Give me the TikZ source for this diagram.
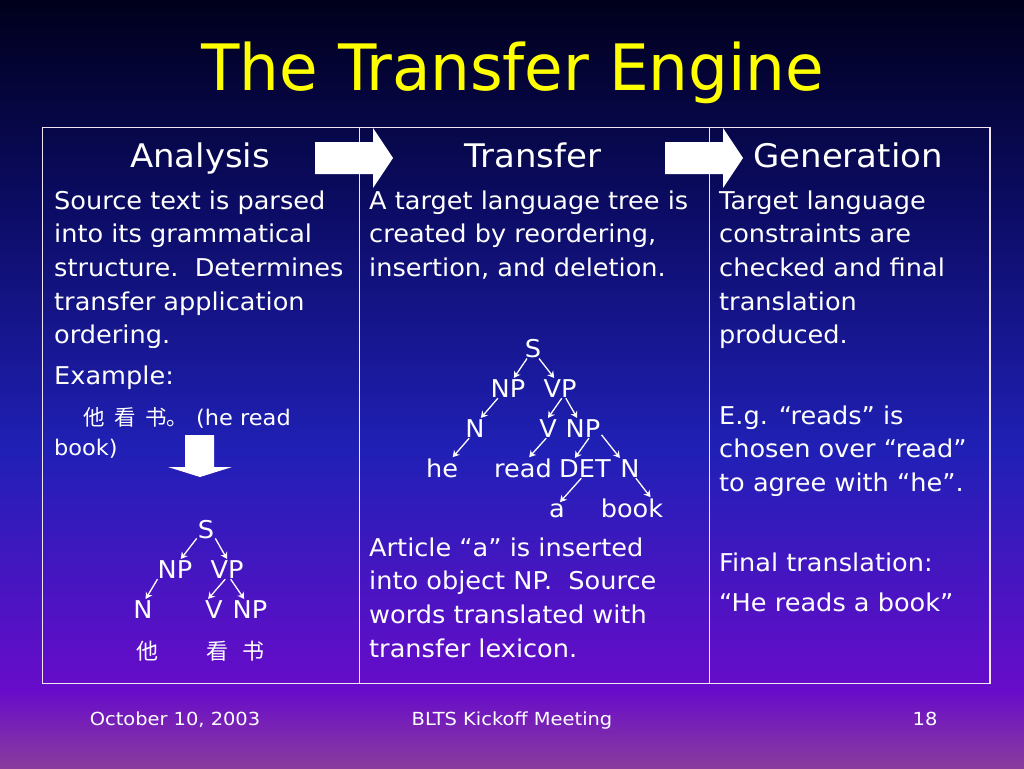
\documentclass[tikz,border=0pt]{standalone}
\usepackage{fontspec}
\setmainfont{DejaVu Sans}[FakeStretch=1.045]
\newfontfamily\titlefont{DejaVu Sans Condensed}[FakeStretch=1.09]
\newfontfamily\footfont{DejaVu Sans Condensed}[FakeStretch=1.2]
\newfontfamily\cjk{Noto Sans CJK SC}
\usetikzlibrary{arrows.meta}

\definecolor{bgA}{HTML}{00001C}
\definecolor{bgB}{HTML}{0B0B62}
\definecolor{bgC}{HTML}{2020B6}
\definecolor{bgD}{HTML}{680CCA}
\definecolor{bgE}{HTML}{8A3C9C}
\definecolor{titleyellow}{HTML}{FFFF00}
\definecolor{rulecol}{HTML}{F2E6F2}

\tikzset{
  cell text/.style={anchor=north west, inner sep=0pt, align=left, text=white,
    font=\fontsize{24.5}{33.7}\selectfont},
  head text/.style={anchor=base, text=white, font=\fontsize{32.5}{38}\selectfont},
  foot text/.style={anchor=base, text=white, font=\footfont\fontsize{18}{22}\selectfont},
  tree node/.style={anchor=base, text=white, inner sep=1pt, font=\fontsize{24.5}{28}\selectfont},
  tree edge/.style={-{Stealth[length=6.5pt,width=7.5pt]}, white, line width=1.3pt},
  block arrow/.style={fill=white, draw=none},
}

\begin{document}
\begin{tikzpicture}[x=1pt, y=-1pt]
  \useasboundingbox (0,0) rectangle (1024,768);
  % background
  \shade[top color=bgA, bottom color=bgB] (0,0) rectangle (1024,201);
  \shade[top color=bgB, bottom color=bgC] (0,200) rectangle (1024,451);
  \shade[top color=bgC, bottom color=bgD] (0,450) rectangle (1024,691);
  \shade[top color=bgD, bottom color=bgE] (0,690) rectangle (1024,768);

  \node[anchor=base, text=titleyellow, font=\titlefont\fontsize{64}{70}\selectfont]
    (title) at (513,90) {The Transfer Engine};

  % table
  \draw[rulecol, line width=1.2pt] (42.5,127.5) rectangle (990,683.5);
  \draw[rulecol, line width=1pt] (359,127.5) -- (359,683.5);
  \draw[rulecol, line width=1pt] (709,127.5) -- (709,683.5);

  % block arrows
  \fill[block arrow] (315,142) -- (373,142) -- (373,128) -- (393,158) -- (373,188)
    -- (373,174) -- (315,174) -- cycle;
  \fill[block arrow] (665,142) -- (723,142) -- (723,128) -- (743,158) -- (723,188)
    -- (723,174) -- (665,174) -- cycle;
  \fill[block arrow] (185,435) -- (214,435) -- (214,467) -- (232,467) -- (200,477)
    -- (168,467) -- (185,467) -- cycle;

  % headers
  \node[head text] (hAnalysis) at (200,167) {Analysis};
  \node[head text] (hTransfer) at (533,167) {Transfer};
  \node[head text] (hGeneration) at (848,167) {Generation};

  % analysis column
  \node[cell text] (aText) at (54,185.4) {\strut Source text is parsed\\into its grammatical\\structure.\ \ Determines\\transfer application\\ordering.};
  \node[cell text] (aExample) at (54,360.4) {\strut Example:};
  \node[cell text, font=\fontsize{21.5}{30}\selectfont] (aSource) at (54,404)
    {\strut\hspace*{29pt}{\cjk 他}\hspace{9.5pt}{\cjk 看}\hspace{9.5pt}{\cjk 书。}\hspace{8pt}(he read\\book)};

  % transfer column
  \node[cell text] (tText) at (369,185.4) {\strut A target language tree is\\created by reordering,\\insertion, and deletion.};
  \node[cell text] (tNote) at (369,532.4) {\strut Article “a” is inserted\\into object NP.\ \ Source\\words translated with\\transfer lexicon.};

  % generation column
  \node[cell text] (gText) at (719,185.4) {\strut Target language\\constraints are\\checked and final\\translation\\produced.};
  \node[cell text] (gExample) at (719,400.4) {\strut E.g. “reads” is\\chosen over “read”\\to agree with “he”.};
  \node[cell text] (gFinal) at (719,547.4) {\strut Final translation:};
  \node[cell text] (gResult) at (719,587.4) {\strut “He reads a book”};

  % source tree
  \node[tree node] (aS) at (206,538) {S};
  \node[tree node] (aNP) at (175,578) {NP};
  \node[tree node] (aVP) at (227,578) {VP};
  \node[tree node] (aN) at (143,618) {N};
  \node[tree node] (aV) at (214,618) {V};
  \node[tree node] (aNP2) at (250,618) {NP};
  \node[tree node, font=\cjk\fontsize{22}{28}\selectfont] (aHe) at (147,659) {他};
  \node[tree node, font=\cjk\fontsize{22}{28}\selectfont] (aRead) at (217,659) {看};
  \node[tree node, font=\cjk\fontsize{22}{28}\selectfont] (aBook) at (253,659) {书};
  \draw[tree edge] (aS.-135) -- (aNP.60);
  \draw[tree edge] (aS.-45) -- (aVP.90);
  \draw[tree edge] (aNP.-150) -- (aN.75);
  \draw[tree edge] (aVP.-100) -- (aV.120);
  \draw[tree edge] (aVP.-70) -- (aNP2.120);

  % target tree
  \node[tree node] (tS) at (533,357) {S};
  \node[tree node] (tNP) at (508,397) {NP};
  \node[tree node] (tVP) at (560,397) {VP};
  \node[tree node] (tN) at (475,437) {N};
  \node[tree node] (tV) at (548,437) {V};
  \node[tree node] (tNP2) at (583,437) {NP};
  \node[tree node] (tHe) at (442,477) {he};
  \node[tree node] (tRead) at (523,477) {read};
  \node[tree node] (tDET) at (585,477) {DET};
  \node[tree node] (tN2) at (630,477) {N};
  \node[tree node] (tA) at (557,517) {a};
  \node[tree node] (tBook) at (632,517) {book};
  \draw[tree edge] (tS.-120) -- (tNP.60);
  \draw[tree edge] (tS.-60) -- (tVP.120);
  \draw[tree edge] (tNP.-135) -- (tN.60);
  \draw[tree edge] (tVP.-80) -- (tV.90);
  \draw[tree edge] (tVP.-60) -- (tNP2.120);
  \draw[tree edge] (tN.-120) -- (tHe.45);
  \draw[tree edge] (tV.-100) -- (tRead.60);
  \draw[tree edge] (tNP2.-60) -- (tDET.135);
  \draw[tree edge] (tNP2.-20) -- (tN2.135);
  \draw[tree edge] (tDET.-110) -- (tA.70);
  \draw[tree edge] (tN2.-60) -- (tBook.30);

  % footer
  \node[foot text] (fDate) at (175,725) {October 10, 2003};
  \node[foot text] (fEvent) at (512,725) {BLTS Kickoff Meeting};
  \node[foot text] (fPage) at (925,725) {18};
\end{tikzpicture}
\end{document}
